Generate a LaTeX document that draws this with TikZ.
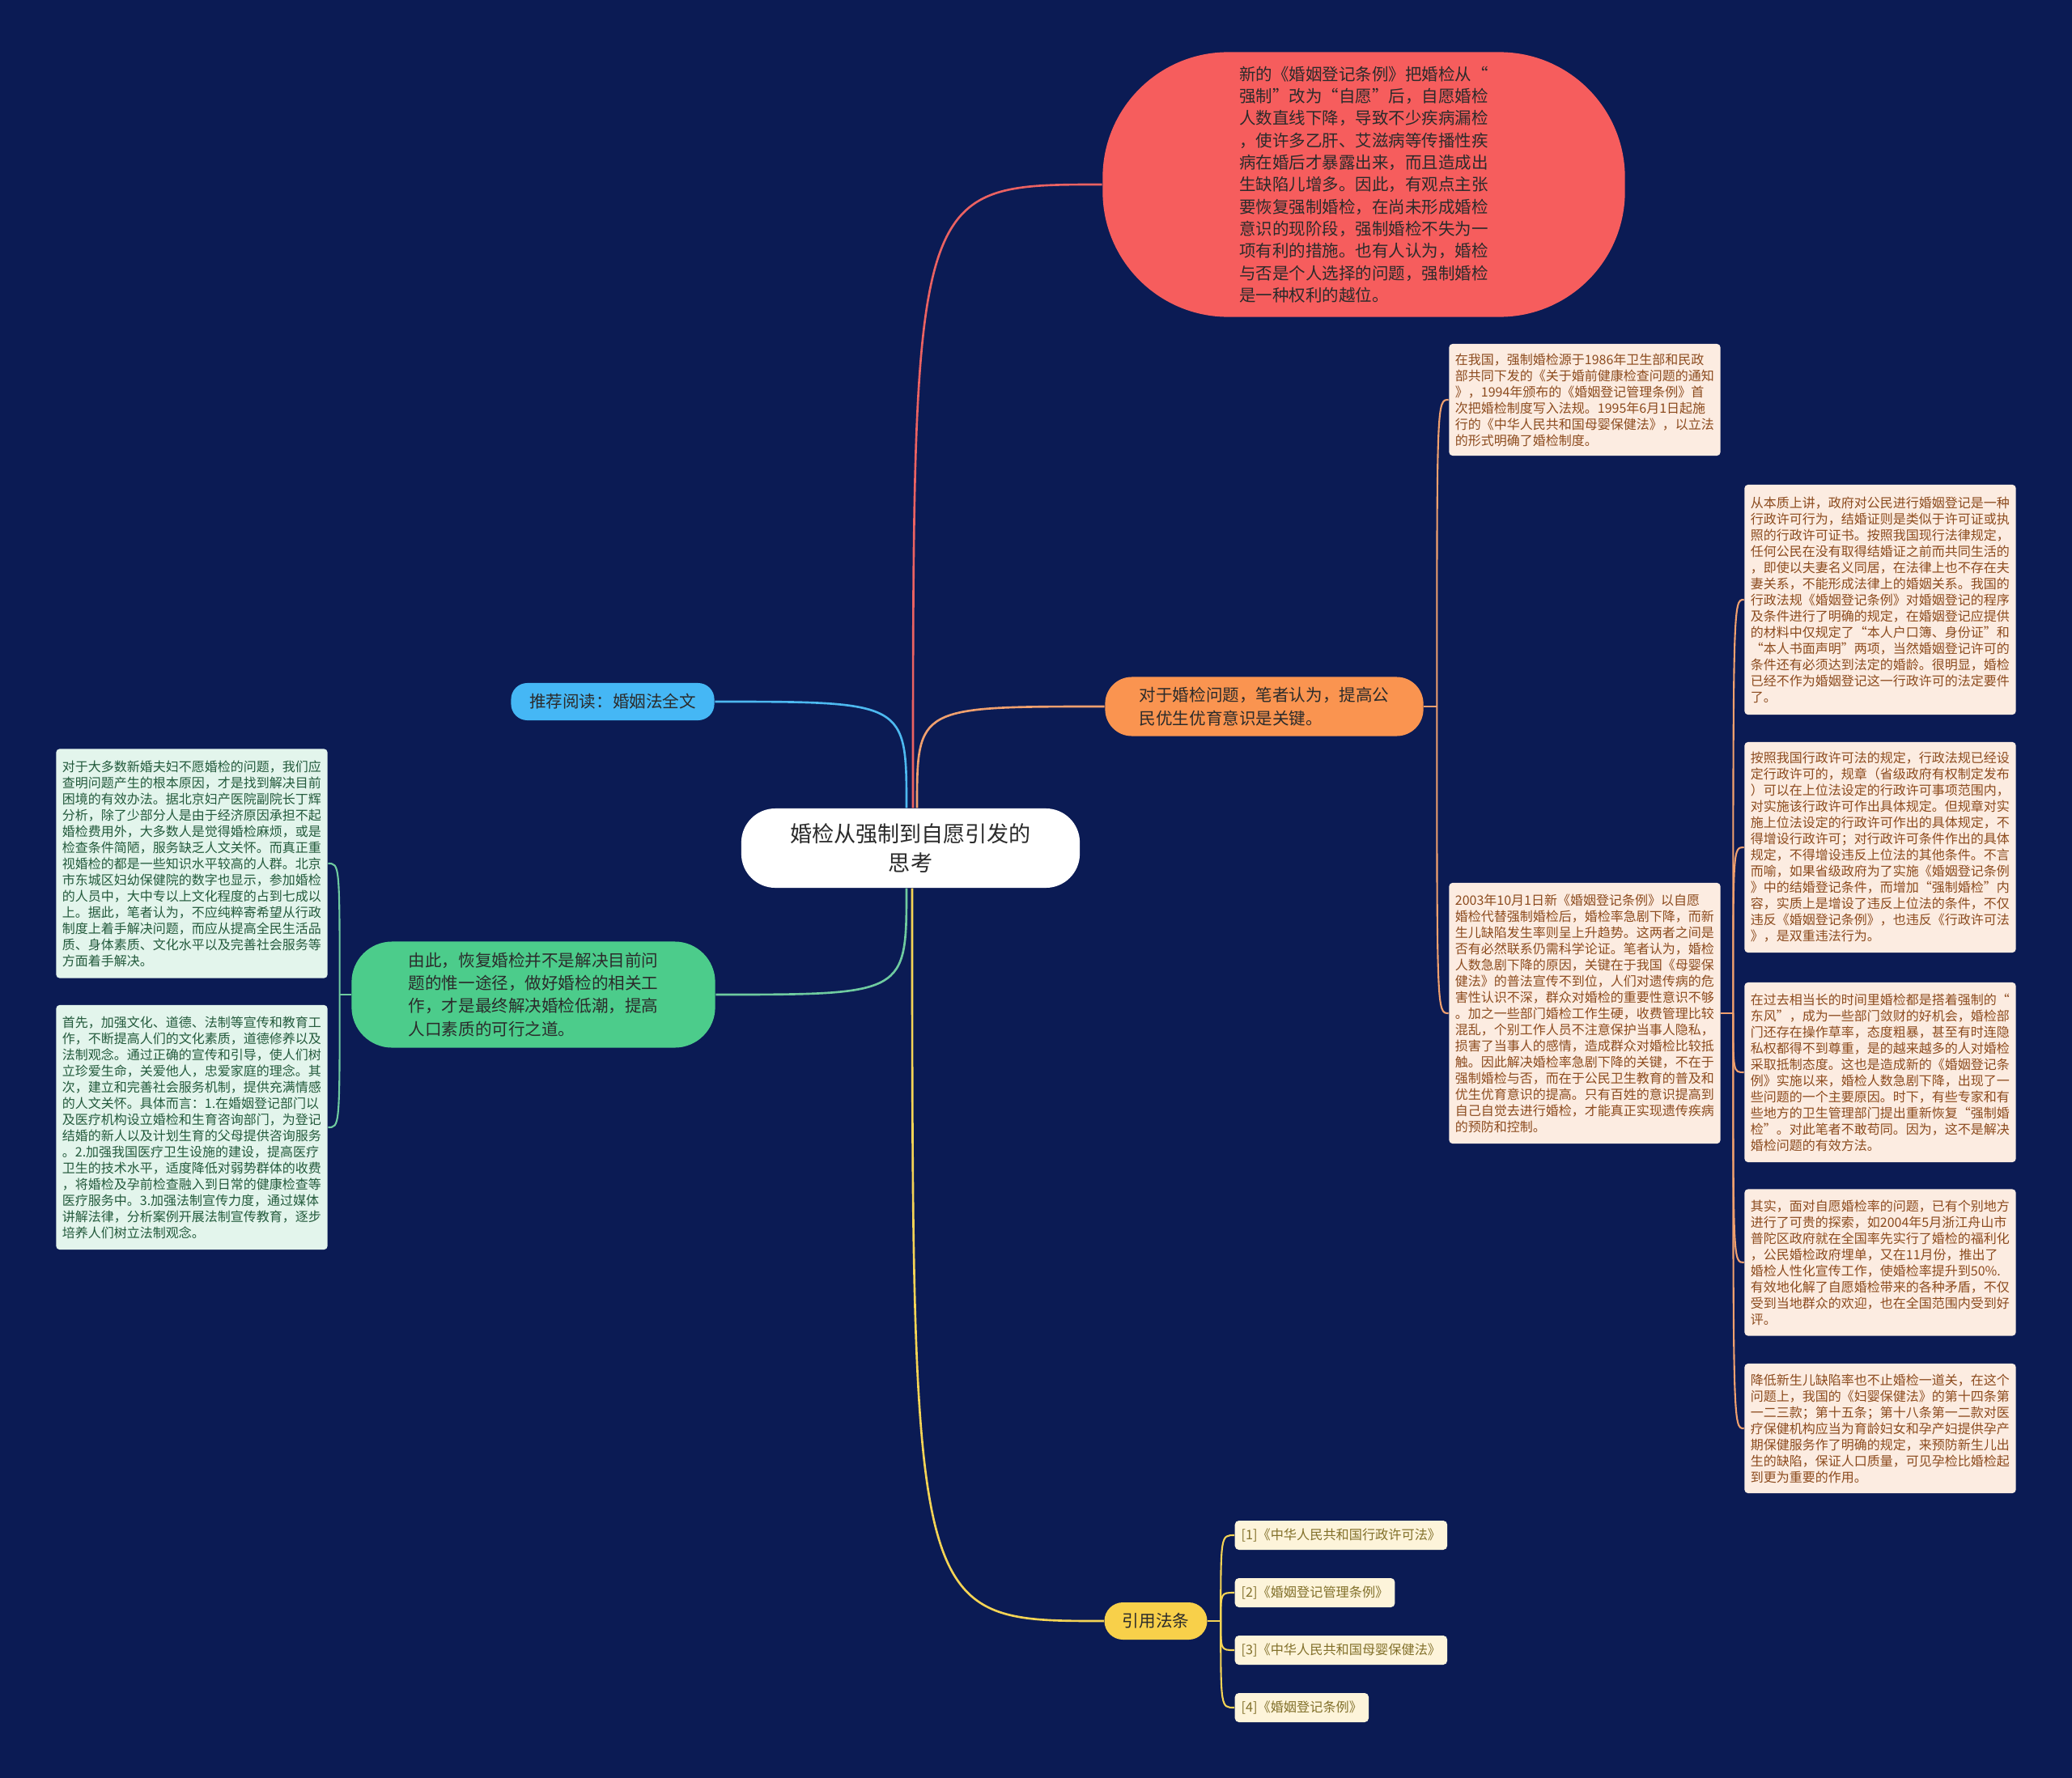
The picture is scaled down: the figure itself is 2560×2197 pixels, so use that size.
\documentclass[tikz,border=0pt]{standalone}
\usepackage{fontspec}
\newfontfamily\cjk{Noto Sans CJK SC}
\usetikzlibrary{positioning,calc}

\definecolor{bgnavy}{HTML}{0B1B54}
\definecolor{ink}{HTML}{2B2B2B}
\definecolor{redfill}{HTML}{F65D5D}
\definecolor{redline}{HTML}{EB6262}
\definecolor{bluefill}{HTML}{45B7F5}
\definecolor{blueline}{HTML}{4DB9F0}
\definecolor{orgfill}{HTML}{FA9450}
\definecolor{orgline}{HTML}{F0A06E}
\definecolor{grnfill}{HTML}{4CCC8B}
\definecolor{grnline}{HTML}{6FCBA0}
\definecolor{ylwfill}{HTML}{F8D04A}
\definecolor{ylwline}{HTML}{F5D455}
\definecolor{peach}{HTML}{FCECE1}
\definecolor{peachink}{HTML}{8C4B1E}
\definecolor{mint}{HTML}{E3F5EC}
\definecolor{mintink}{HTML}{235A3C}
\definecolor{citefill}{HTML}{FDF4DA}
\definecolor{citeink}{HTML}{82702A}

\begin{document}
\begin{tikzpicture}[
  x=0.01cm,y=0.01cm,
  topic/.style={rectangle,rounded corners=0.42cm,fill=white,text=ink,align=center,minimum width=4.18cm,minimum height=0.98cm,font=\cjk\fontsize{7.7pt}{10.5pt}\selectfont},
  branch/.style={rectangle,fill=#1,text=ink,align=left,inner sep=0pt,font=\cjk\fontsize{5.85pt}{8pt}\selectfont},
  leaf/.style={rectangle,rounded corners=1.2pt,fill=#1,align=left,text width=3.2cm,inner xsep=0.075cm,inner ysep=0.03cm,font=\cjk\fontsize{4.55pt}{5.69pt}\selectfont},
  lawref/.style={rectangle,rounded corners=1.4pt,fill=citefill,text=citeink,inner xsep=0.08cm,inner ysep=0pt,minimum height=0.36cm,font=\cjk\fontsize{4.6pt}{5.6pt}\selectfont},
  limb/.style={draw=#1,line width=0.75pt},
  twig/.style={draw=#1,line width=0.6pt},
]

% background, fixes the page size
\fill[bgnavy] (0,0) rectangle (2560,-2197);

% === ROOT ===
\node[topic] (root) at (1125,-1048) {婚检从强制到自愿引发的\\思考};

% === MAIN BRANCHES ===
\node[branch=redfill,rounded corners=1.55cm,minimum width=6.45cm,minimum height=3.27cm,font=\cjk\fontsize{5.83pt}{7.77pt}\selectfont] (opin) at (1685,-228) {新的《婚姻登记条例》把婚检从“\\强制”改为“自愿”后，自愿婚检\\人数直线下降，导致不少疾病漏检\\，使许多乙肝、艾滋病等传播性疾\\病在婚后才暴露出来，而且造成出\\生缺陷儿增多。因此，有观点主张\\要恢复强制婚检，在尚未形成婚检\\意识的现阶段，强制婚检不失为一\\项有利的措施。也有人认为，婚检\\与否是个人选择的问题，强制婚检\\是一种权利的越位。};
\node[branch=bluefill,rounded corners=0.2cm,minimum width=2.51cm,minimum height=0.46cm] (read) at (757,-867) {推荐阅读：婚姻法全文};
\node[branch=orgfill,rounded corners=0.33cm,minimum width=3.93cm,minimum height=0.73cm,font=\cjk\fontsize{5.85pt}{8.25pt}\selectfont] (key) at (1562,-873) {对于婚检问题，笔者认为，提高公\\民优生优育意识是关键。};
\node[branch=grnfill,rounded corners=0.5cm,minimum width=4.49cm,minimum height=1.31cm] (sum) at (659,-1229) {由此，恢复婚检并不是解决目前问\\题的惟一途径，做好婚检的相关工\\作，才是最终解决婚检低潮，提高\\人口素质的可行之道。};
\node[branch=ylwfill,rounded corners=0.23cm,minimum width=1.27cm,minimum height=0.46cm] (cite) at (1428,-2003) {引用法条};

\draw[limb=redline] ([xshift=0.03cm]root.north) .. controls ([xshift=0.03cm]root.north |- opin.west) .. (opin.west);
\draw[limb=blueline] ([xshift=-0.05cm]root.north) .. controls ([xshift=-0.05cm]root.north |- read.east) .. (read.east);
\draw[limb=orgline] ([xshift=0.08cm]root.north) .. controls ([xshift=0.08cm]root.north |- key.west) .. (key.west);
\draw[limb=grnline] ([xshift=-0.05cm]root.south) .. controls ([xshift=-0.05cm]root.south |- sum.east) .. (sum.east);
\draw[limb=ylwline] ([xshift=0.02cm]root.south) .. controls ([xshift=0.02cm]root.south |- cite.west) .. (cite.west);

% === KEY: history + 2003 regulation ===
\node[leaf=peach,text=peachink,minimum height=1.38cm] (hist) at (1958,-494) {在我国，强制婚检源于1986年卫生部和民政\\部共同下发的《关于婚前健康检查问题的通知\\》，1994年颁布的《婚姻登记管理条例》首\\次把婚检制度写入法规。1995年6月1日起施\\行的《中华人民共和国母婴保健法》，以立法\\的形式明确了婚检制度。};
\node[leaf=peach,text=peachink,minimum height=3.22cm] (law03) at (1958,-1252) {2003年10月1日新《婚姻登记条例》以自愿\\婚检代替强制婚检后，婚检率急剧下降，而新\\生儿缺陷发生率则呈上升趋势。这两者之间是\\否有必然联系仍需科学论证。笔者认为，婚检\\人数急剧下降的原因，关键在于我国《母婴保\\健法》的普法宣传不到位，人们对遗传病的危\\害性认识不深，群众对婚检的重要性意识不够\\。加之一些部门婚检工作生硬，收费管理比较\\混乱，个别工作人员不注意保护当事人隐私，\\损害了当事人的感情，造成群众对婚检比较抵\\触。因此解决婚检率急剧下降的关键，不在于\\强制婚检与否，而在于公民卫生教育的普及和\\优生优育意识的提高。只有百姓的意识提高到\\自己自觉去进行婚检，才能真正实现遗传疾病\\的预防和控制。};

\coordinate (kj) at ($(key.east)+(16,0)$);
\draw[twig=orgline] (key.east) -- (kj);
\draw[twig=orgline] (kj) .. controls (kj |- hist.west) .. (hist.west);
\draw[twig=orgline] (kj) .. controls (kj |- law03.west) .. (law03.west);

% === 2003 regulation: five points ===
\node[leaf=peach,text=peachink,minimum height=2.84cm] (p1) at (2323,-741) {从本质上讲，政府对公民进行婚姻登记是一种\\行政许可行为，结婚证则是类似于许可证或执\\照的行政许可证书。按照我国现行法律规定，\\任何公民在没有取得结婚证之前而共同生活的\\，即使以夫妻名义同居，在法律上也不存在夫\\妻关系，不能形成法律上的婚姻关系。我国的\\行政法规《婚姻登记条例》对婚姻登记的程序\\及条件进行了明确的规定，在婚姻登记应提供\\的材料中仅规定了“本人户口簿、身份证”和\\“本人书面声明”两项，当然婚姻登记许可的\\条件还有必须达到法定的婚龄。很明显，婚检\\已经不作为婚姻登记这一行政许可的法定要件\\了。};
\node[leaf=peach,text=peachink,minimum height=2.60cm] (p2) at (2323,-1047) {按照我国行政许可法的规定，行政法规已经设\\定行政许可的，规章（省级政府有权制定发布\\）可以在上位法设定的行政许可事项范围内，\\对实施该行政许可作出具体规定。但规章对实\\施上位法设定的行政许可作出的具体规定，不\\得增设行政许可；对行政许可条件作出的具体\\规定，不得增设违反上位法的其他条件。不言\\而喻，如果省级政府为了实施《婚姻登记条例\\》中的结婚登记条件，而增加“强制婚检”内\\容，实质上是增设了违反上位法的条件，不仅\\违反《婚姻登记条例》，也违反《行政许可法\\》，是双重违法行为。};
\node[leaf=peach,text=peachink,minimum height=2.22cm] (p3) at (2323,-1325) {在过去相当长的时间里婚检都是搭着强制的“\\东风”，成为一些部门敛财的好机会，婚检部\\门还存在操作草率，态度粗暴，甚至有时连隐\\私权都得不到尊重，是的越来越多的人对婚检\\采取抵制态度。这也是造成新的《婚姻登记条\\例》实施以来，婚检人数急剧下降，出现了一\\些问题的一个主要原因。时下，有些专家和有\\些地方的卫生管理部门提出重新恢复“强制婚\\检”。对此笔者不敢苟同。因为，这不是解决\\婚检问题的有效方法。};
\node[leaf=peach,text=peachink,minimum height=1.81cm] (p4) at (2323,-1560) {其实，面对自愿婚检率的问题，已有个别地方\\进行了可贵的探索，如2004年5月浙江舟山市\\普陀区政府就在全国率先实行了婚检的福利化\\，公民婚检政府埋单，又在11月份，推出了\\婚检人性化宣传工作，使婚检率提升到50\%.\\有效地化解了自愿婚检带来的各种矛盾，不仅\\受到当地群众的欢迎，也在全国范围内受到好\\评。};
\node[leaf=peach,text=peachink,minimum height=1.60cm] (p5) at (2323,-1765) {降低新生儿缺陷率也不止婚检一道关，在这个\\问题上，我国的《妇婴保健法》的第十四条第\\一二三款；第十五条；第十八条第一二款对医\\疗保健机构应当为育龄妇女和孕产妇提供孕产\\期保健服务作了明确的规定，来预防新生儿出\\生的缺陷，保证人口质量，可见孕检比婚检起\\到更为重要的作用。};

\coordinate (mj) at ($(law03.east)+(15,0)$);
\draw[twig=orgline] (law03.east) -- (mj);
\foreach \p in {p1,p2,p3,p4,p5}
  \draw[twig=orgline] (mj) .. controls (mj |- \p.west) .. (\p.west);

% === SUMMARY: two suggestions ===
\node[leaf=mint,text=mintink,minimum height=2.83cm] (s1) at (237,-1067) {对于大多数新婚夫妇不愿婚检的问题，我们应\\查明问题产生的根本原因，才是找到解决目前\\困境的有效办法。据北京妇产医院副院长丁辉\\分析，除了少部分人是由于经济原因承担不起\\婚检费用外，大多数人是觉得婚检麻烦，或是\\检查条件简陋，服务缺乏人文关怀。而真正重\\视婚检的都是一些知识水平较高的人群。北京\\市东城区妇幼保健院的数字也显示，参加婚检\\的人员中，大中专以上文化程度的占到七成以\\上。据此，笔者认为，不应纯粹寄希望从行政\\制度上着手解决问题，而应从提高全民生活品\\质、身体素质、文化水平以及完善社会服务等\\方面着手解决。};
\node[leaf=mint,text=mintink,minimum height=3.02cm] (s2) at (237,-1393) {首先，加强文化、道德、法制等宣传和教育工\\作，不断提高人们的文化素质，道德修养以及\\法制观念。通过正确的宣传和引导，使人们树\\立珍爱生命，关爱他人，忠爱家庭的理念。其\\次，建立和完善社会服务机制，提供充满情感\\的人文关怀。具体而言：1.在婚姻登记部门以\\及医疗机构设立婚检和生育咨询部门，为登记\\结婚的新人以及计划生育的父母提供咨询服务\\。2.加强我国医疗卫生设施的建设，提高医疗\\卫生的技术水平，适度降低对弱势群体的收费\\，将婚检及孕前检查融入到日常的健康检查等\\医疗服务中。3.加强法制宣传力度，通过媒体\\讲解法律，分析案例开展法制宣传教育，逐步\\培养人们树立法制观念。};

\coordinate (gj) at ($(sum.west)+(-14,0)$);
\draw[twig=grnline] (sum.west) -- (gj);
\draw[twig=grnline] (gj) .. controls (gj |- s1.east) .. (s1.east);
\draw[twig=grnline] (gj) .. controls (gj |- s2.east) .. (s2.east);

% === CITED LAWS ===
\node[lawref,anchor=west] (c1) at (1525,-1897) {[1]《中华人民共和国行政许可法》};
\node[lawref,anchor=west] (c2) at (1525,-1968) {[2]《婚姻登记管理条例》};
\node[lawref,anchor=west] (c3) at (1525,-2039) {[3]《中华人民共和国母婴保健法》};
\node[lawref,anchor=west] (c4) at (1525,-2110) {[4]《婚姻登记条例》};

\coordinate (yj) at ($(cite.east)+(16,0)$);
\draw[twig=ylwline] (cite.east) -- (yj);
\foreach \c in {c1,c2,c3,c4}
  \draw[twig=ylwline] (yj) .. controls (yj |- \c.west) .. (\c.west);

\end{tikzpicture}
\end{document}
